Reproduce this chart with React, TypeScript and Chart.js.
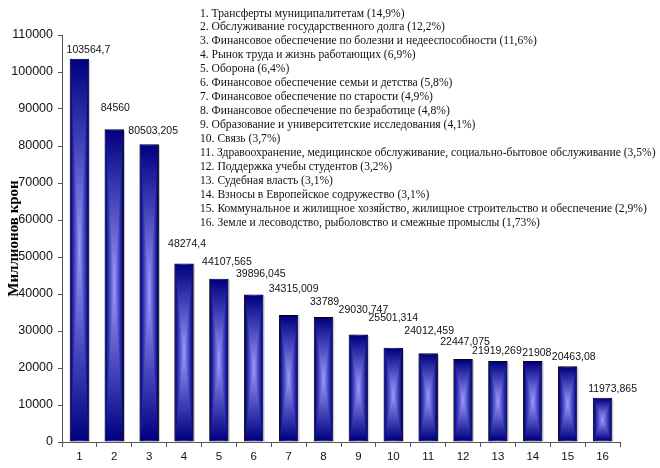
import React, { useEffect, useRef } from 'react';
import { Chart, registerables } from 'chart.js';

Chart.register(...registerables);

// ---------- data ----------
const categoryNumbers = ['1', '2', '3', '4', '5', '6', '7', '8', '9', '10', '11', '12', '13', '14', '15', '16'];
const categoryNames = [
  'Трансферты муниципалитетам',
  'Обслуживание государственного долга',
  'Финансовое обеспечение по болезни и недееспособности',
  'Рынок труда и жизнь работающих',
  'Оборона',
  'Финансовое обеспечение семьи и детства',
  'Финансовое обеспечение по старости',
  'Финансовое обеспечение по безработице',
  'Образование и университетские исследования',
  'Связь',
  'Здравоохранение, медицинское обслуживание, социально-бытовое обслуживание',
  'Поддержка учебы студентов',
  'Судебная власть',
  'Взносы в Европейское содружество',
  'Коммунальное и жилищное хозяйство, жилищное строительство и обеспечение',
  'Земле и лесоводство, рыболовство и смежные промыслы',
];
const sharePercents = ['14,9', '12,2', '11,6', '6,9', '6,4', '5,8', '4,9', '4,8', '4,1', '3,7', '3,5', '3,2', '3,1', '3,1', '2,9', '1,73'];
const spending = [
  103564.7, 84560, 80503.205, 48274.4, 44107.565, 39896.045, 34315.009, 33789,
  29030.747, 25501.314, 24012.459, 22447.075, 21919.269, 21908, 20463.08, 11973.865,
];
const yMin = 0;
const yMax = 110000;
const yStep = 10000;
const yAxisTitle = 'Миллионов крон';

// ---------- styles ----------
const EDGE = '#000080';
const CENTER = '#9999ff';
// label placement tweaks (pixels, relative to each bar top centre)
const labelDx = [9, 1, 4, 3, 8, 7, 5, 1, 5, 0, 1, 2, -1, 4, 6, 10];
const labelRise = [8.5, 21, 13, 19, 16.5, 20, 26, 15, 24.5, 30, 22, 17, 9.5, 8, 9, 9];

const fmt = (v: number) => String(v).replace('.', ',');

const pyramidPlugin = {
  id: 'pyramidFill',
  afterDatasetDraw(chart: any, args: any) {
    const meta = chart.getDatasetMeta(args.index);
    const ctx = chart.ctx as CanvasRenderingContext2D;
    meta.data.forEach((bar: any) => {
      const p = bar.getProps(['x', 'y', 'base', 'width'], true);
      const l = p.x - p.width / 2 + 1;
      const r = p.x + p.width / 2 - 1;
      const t = Math.min(p.y, p.base) + 1;
      const b = Math.max(p.y, p.base) - 1;
      const cx = (l + r) / 2;
      const cy = (t + b) / 2;
      ctx.save();
      ctx.fillStyle = '#c8c8c8';
      ctx.fillRect(r + 1, t + 1, 1, b - t + 1);
      const gh = ctx.createLinearGradient(l, 0, r, 0);
      gh.addColorStop(0, EDGE);
      gh.addColorStop(0.5, CENTER);
      gh.addColorStop(1, EDGE);
      ctx.fillStyle = gh;
      ctx.fillRect(l, t, r - l, b - t);
      const gt = ctx.createLinearGradient(0, t, 0, cy);
      gt.addColorStop(0, EDGE);
      gt.addColorStop(1, CENTER);
      ctx.beginPath();
      ctx.moveTo(l, t);
      ctx.lineTo(r, t);
      ctx.lineTo(cx, cy);
      ctx.closePath();
      ctx.fillStyle = gt;
      ctx.fill();
      const gb = ctx.createLinearGradient(0, b, 0, cy);
      gb.addColorStop(0, EDGE);
      gb.addColorStop(1, CENTER);
      ctx.beginPath();
      ctx.moveTo(l, b);
      ctx.lineTo(r, b);
      ctx.lineTo(cx, cy);
      ctx.closePath();
      ctx.fillStyle = gb;
      ctx.fill();
      ctx.restore();
    });
  },
};

const labelsPlugin = {
  id: 'valueLabels',
  afterDatasetsDraw(chart: any) {
    const ctx = chart.ctx as CanvasRenderingContext2D;
    const meta = chart.getDatasetMeta(0);
    ctx.save();
    ctx.font = '10.5px "Liberation Sans", Arial, sans-serif';
    ctx.fillStyle = '#111';
    ctx.textAlign = 'center';
    ctx.textBaseline = 'middle';
    meta.data.forEach((bar: any, i: number) => {
      const p = bar.getProps(['x', 'y'], true);
      ctx.fillText(fmt(spending[i]), p.x + labelDx[i], p.y - labelRise[i]);
    });
    ctx.restore();
  },
};

const legendTextPlugin = {
  id: 'legendText',
  afterDraw(chart: any) {
    const ctx = chart.ctx as CanvasRenderingContext2D;
    ctx.save();
    ctx.font = '11.6px "Liberation Serif", "Times New Roman", serif';
    ctx.fillStyle = '#111';
    ctx.textAlign = 'left';
    ctx.textBaseline = 'middle';
    categoryNames.forEach((name, i) => {
      ctx.fillText(`${categoryNumbers[i]}. ${name} (${sharePercents[i]}%)`, 200, 13.5 + i * 13.95);
    });
    ctx.restore();
  },
};

export default function App() {
  const ref = useRef<HTMLCanvasElement | null>(null);
  useEffect(() => {
    if (!ref.current) return;
    const chart = new Chart(ref.current, {
      type: 'bar',
      data: {
        labels: categoryNumbers,
        datasets: [
          {
            data: spending,
            backgroundColor: EDGE,
            borderColor: '#000000',
            borderWidth: 1,
            borderSkipped: false,
            categoryPercentage: 1,
            barPercentage: 0.56,
          },
        ],
      },
      options: {
        animation: false,
        responsive: false,
        devicePixelRatio: 1,
        layout: { padding: { top: 35, right: 40, left: 0, bottom: 0 } },
        plugins: { legend: { display: false }, tooltip: { enabled: false } },
        scales: {
          x: {
            afterFit: (s: any) => { s.height = 26; },
            grid: { display: true, drawOnChartArea: false, drawTicks: true, tickLength: 5, color: '#555', offset: true },
            border: { display: true, color: '#555', width: 1 },
            ticks: { color: '#111', font: { family: '"Liberation Sans", Arial, sans-serif', size: 11.5 }, padding: 3, maxRotation: 0 },
          },
          y: {
            min: yMin,
            max: yMax,
            afterFit: (s: any) => { s.width = 62; },
            grid: { display: true, drawOnChartArea: false, drawTicks: true, tickLength: 4, color: '#555' },
            border: { display: true, color: '#555', width: 1 },
            ticks: {
              stepSize: yStep,
              color: '#111',
              font: { family: '"Liberation Sans", Arial, sans-serif', size: 12.5 },
              padding: 5,
              callback: (v: any) => String(v),
            },
            title: {
              display: true,
              text: yAxisTitle,
              color: '#000',
              font: { family: '"Liberation Serif", "Times New Roman", serif', size: 15, weight: 'bold' },
              padding: { top: 5, bottom: 0 },
            },
          },
        },
      },
      plugins: [pyramidPlugin, labelsPlugin, legendTextPlugin],
    });
    return () => chart.destroy();
  }, []);
  return (
    <div style={{ position: 'absolute', left: 0, top: 0, width: 660, height: 468, background: '#fff' }}>
      <canvas ref={ref} width={660} height={468} />
    </div>
  );
}
